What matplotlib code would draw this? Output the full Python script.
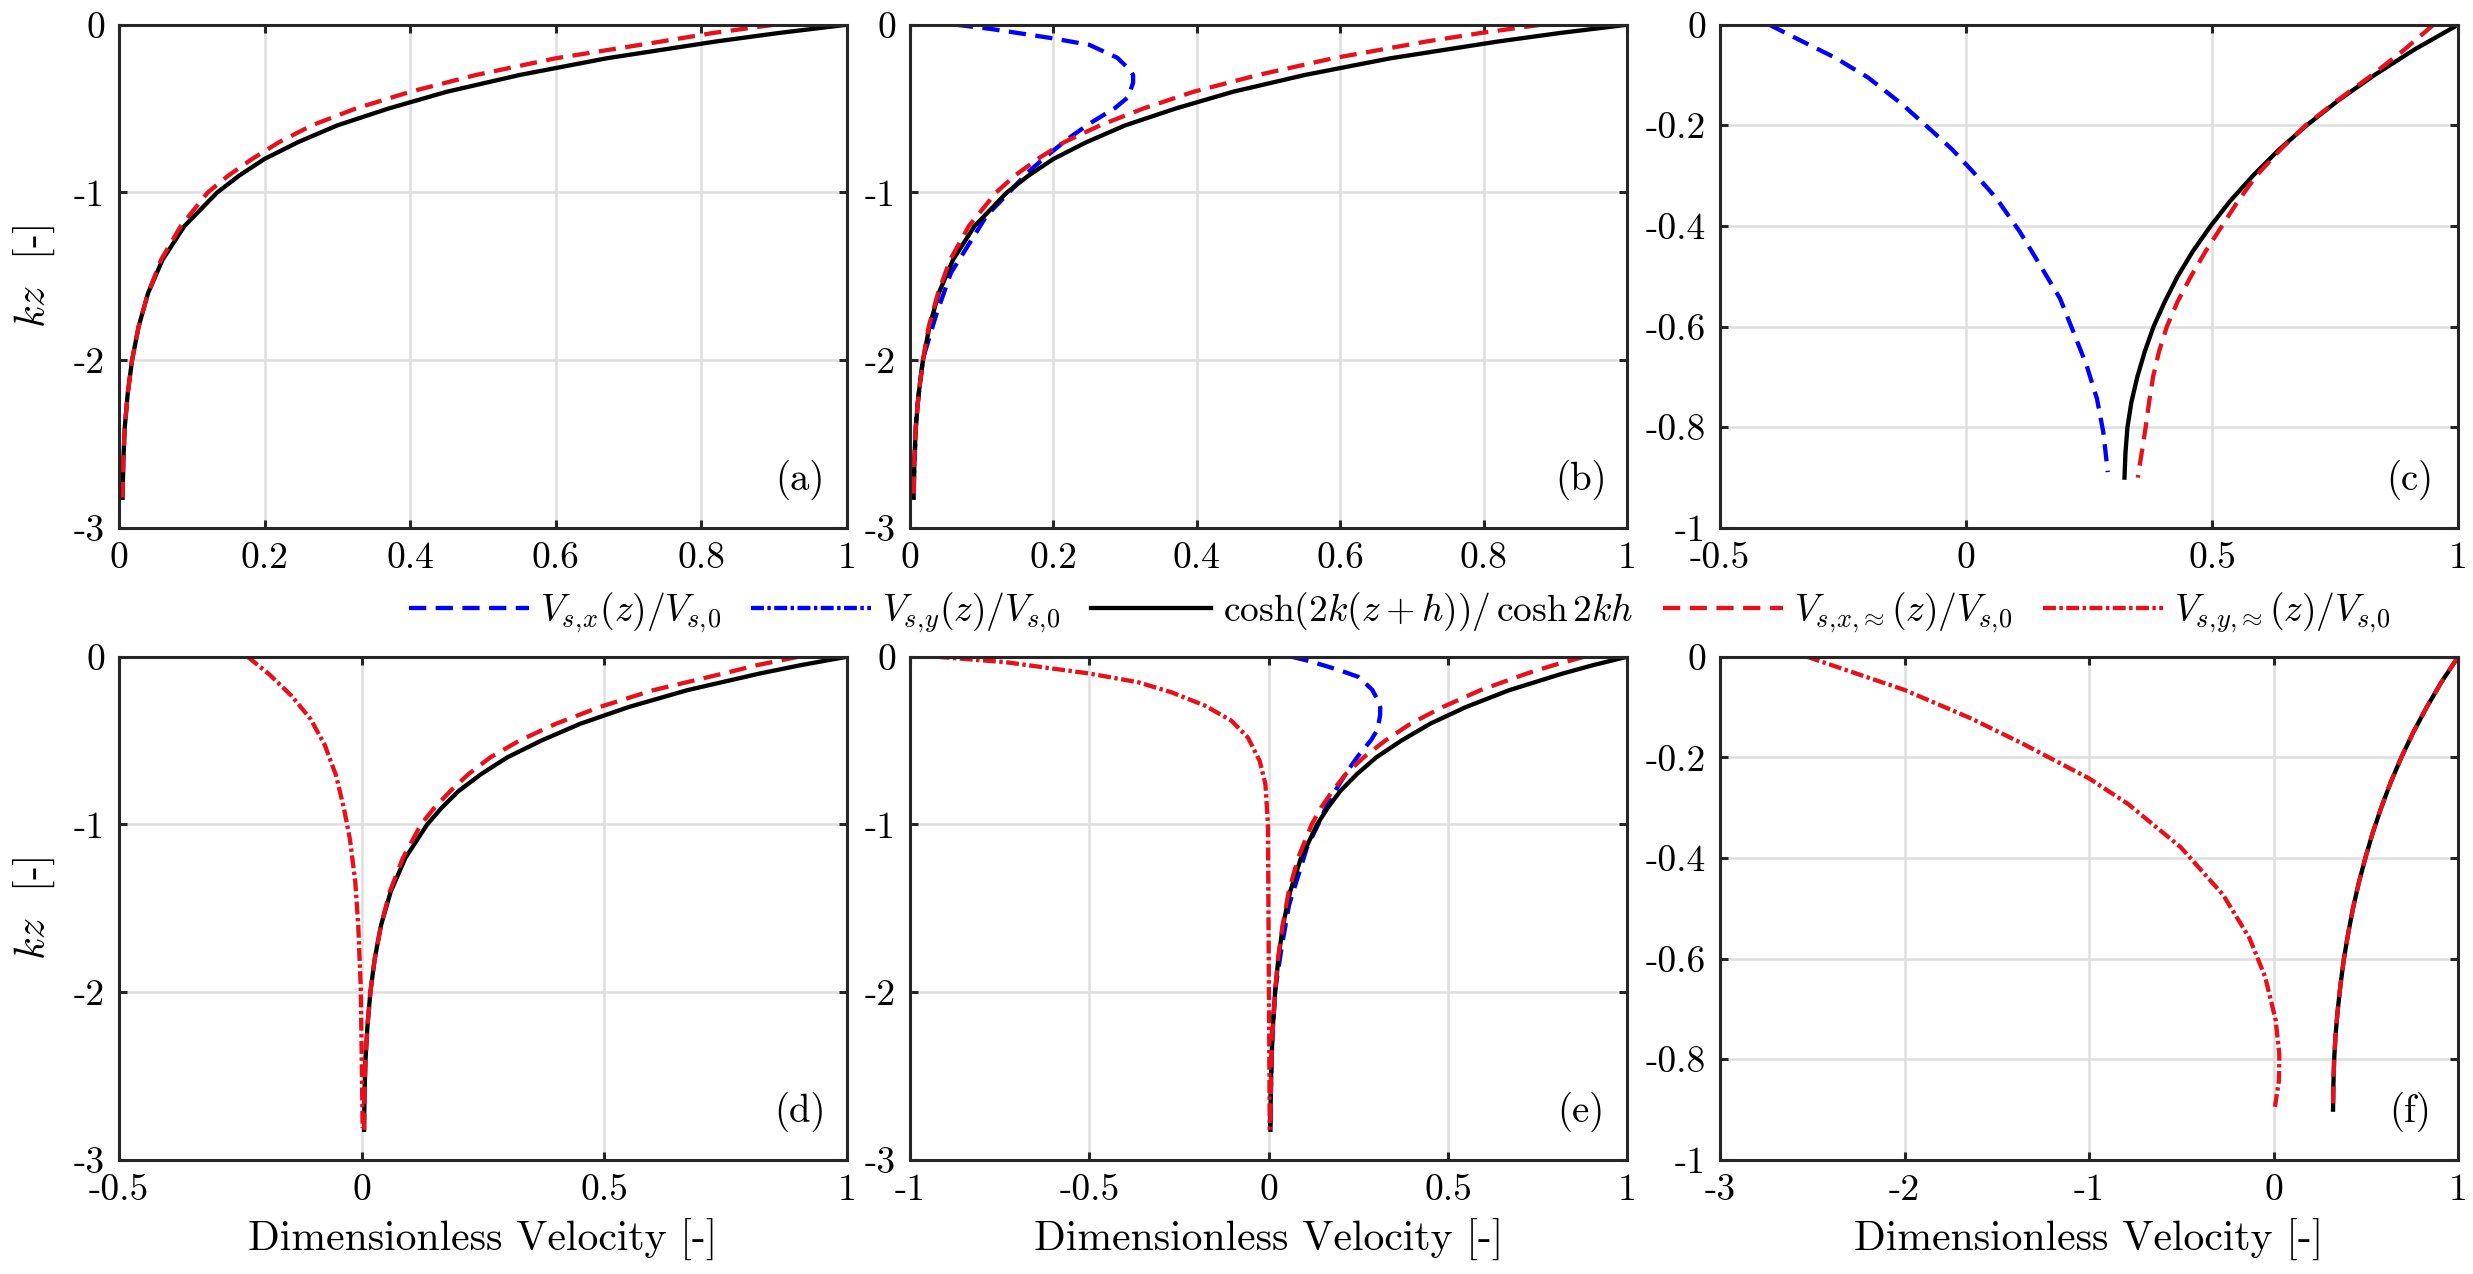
import matplotlib
matplotlib.use('Agg')
import matplotlib.pyplot as plt
from matplotlib.lines import Line2D

plt.rcParams['font.family'] = 'cmr10'
plt.rcParams['mathtext.fontset'] = 'cm'
plt.rcParams['axes.formatter.use_mathtext'] = True
plt.rcParams['axes.unicode_minus'] = False

# ---- data ----
# deep water (panels a, b, d, e): exact profile cosh(2k(z+h))/cosh(2kh)
kz_deep = [0, -0.05, -0.1, -0.2, -0.3, -0.4, -0.5, -0.6, -0.7, -0.8, -0.9, -1.0,
           -1.2, -1.4, -1.6, -1.8, -2.0, -2.2, -2.4, -2.6, -2.82]
v_exact_deep = [1.0, 0.905, 0.82, 0.67, 0.55, 0.45, 0.37, 0.30, 0.246, 0.20, 0.165, 0.135,
                0.09, 0.06, 0.04, 0.027, 0.018, 0.012, 0.008, 0.006, 0.005]
vx_approx_a = [0.90, 0.815, 0.745, 0.60, 0.49, 0.40, 0.325, 0.265, 0.22, 0.183, 0.15, 0.122,
               0.085, 0.058, 0.04, 0.027, 0.018, 0.012, 0.008, 0.006, 0.005]
vx_approx_b = [0.88, 0.795, 0.72, 0.59, 0.485, 0.395, 0.325, 0.265, 0.215, 0.178, 0.146, 0.12,
               0.082, 0.056, 0.039, 0.026, 0.018, 0.012, 0.008, 0.006, 0.005]

# blue Vs,x in panels b and e
kz_vx_b = [0, -0.026, -0.079, -0.12, -0.197, -0.271, -0.30, -0.346, -0.432, -0.496, -0.59,
           -0.677, -0.774, -0.88, -1.009, -1.137, -1.329, -1.479, -1.735, -1.991, -2.312,
           -2.632, -2.825]
vx_b = [0.064, 0.114, 0.196, 0.25, 0.289, 0.307, 0.311, 0.311, 0.304, 0.286, 0.25,
        0.221, 0.193, 0.164, 0.136, 0.107, 0.079, 0.057, 0.036, 0.018, 0.009,
        0.006, 0.004]

# Vs,y approx in panel d
kz_vy_d = [0, -0.103, -0.231, -0.372, -0.526, -0.705, -0.91, -1.09, -1.346, -1.6,
           -1.96, -2.35, -2.81]
vy_d = [-0.235, -0.191, -0.145, -0.105, -0.076, -0.053, -0.036, -0.024, -0.013, -0.007,
        -0.002, 0.0, 0.002]

# Vs,y approx in panel e
kz_vy_e = [0, -0.032, -0.10, -0.152, -0.212, -0.291, -0.381, -0.481, -0.621, -0.76,
           -1.0, -1.72, -2.82]
vy_e = [-0.926, -0.735, -0.5, -0.364, -0.271, -0.178, -0.104, -0.058, -0.025, -0.009,
        -0.002, 0.0, 0.003]

# shallow water (panels c, f)
kz_shallow = [0, -0.05, -0.1, -0.15, -0.2, -0.25, -0.3, -0.35, -0.4, -0.45, -0.5, -0.55,
              -0.6, -0.65, -0.7, -0.75, -0.8, -0.85, -0.9]
v_exact_shallow = [1.0, 0.91, 0.83, 0.757, 0.692, 0.634, 0.583, 0.537, 0.497, 0.461, 0.43,
                   0.404, 0.381, 0.363, 0.348, 0.336, 0.328, 0.324, 0.322]
vx_approx_c = [0.95, 0.89, 0.825, 0.755, 0.69, 0.637, 0.59, 0.553, 0.52, 0.487, 0.457,
               0.43, 0.408, 0.392, 0.38, 0.372, 0.365, 0.357, 0.349]
kz_vx_c = [0, -0.032, -0.065, -0.105, -0.158, -0.205, -0.248, -0.291, -0.344, -0.411,
           -0.477, -0.544, -0.61, -0.677, -0.743, -0.81, -0.889]
vx_c = [-0.40, -0.335, -0.267, -0.199, -0.13, -0.076, -0.028, 0.013, 0.061, 0.109,
        0.15, 0.191, 0.218, 0.245, 0.266, 0.279, 0.288]
kz_vy_f = [0, -0.066, -0.122, -0.173, -0.242, -0.293, -0.379, -0.473, -0.559, -0.636,
           -0.722, -0.79, -0.842, -0.897]
vy_f = [-2.528, -2.0, -1.643, -1.358, -0.999, -0.787, -0.502, -0.274, -0.131, -0.046,
        0.011, 0.031, 0.029, 0.006]

# ticks
xt_01 = [0, 0.2, 0.4, 0.6, 0.8, 1]
xl_01 = ['0', '0.2', '0.4', '0.6', '0.8', '1']
xt_h = [-0.5, 0, 0.5, 1]
xl_h = ['-0.5', '0', '0.5', '1']
xt_e = [-1, -0.5, 0, 0.5, 1]
xl_e = ['-1', '-0.5', '0', '0.5', '1']
xt_f = [-3, -2, -1, 0, 1]
xl_f = ['-3', '-2', '-1', '0', '1']
yt_deep = [-3, -2, -1, 0]
yl_deep = ['-3', '-2', '-1', '0']
yt_sh = [-1, -0.8, -0.6, -0.4, -0.2, 0]
yl_sh = ['-1', '-0.8', '-0.6', '-0.4', '-0.2', '0']

# ---- styles ----
BLUE = '#0000ff'
RED = '#e8101a'
DASH = (4, 2.2)
DASHDOT = (3.0, 0.8, 0.8, 0.8)
LW = 3.1
TICK_FS = 27

fig = plt.figure(figsize=(24.73, 12.74), dpi=100)
col_left = [0.0481, 0.3680, 0.6955]
col_width = [0.2944, 0.2900, 0.2985]
row_bottom = [0.5856, 0.0895]
row_height = 0.3950


def make_ax(r, c):
    ax = fig.add_axes([col_left[c], row_bottom[r], col_width[c], row_height])
    ax.grid(True, color='#dedede', lw=1.8)
    ax.set_axisbelow(True)
    for s in ax.spines.values():
        s.set_linewidth(2.2)
        s.set_color('#262626')
    ax.tick_params(direction='in', length=6, width=2.2, color='#262626',
                   top=True, right=True, labelsize=TICK_FS, pad=10)
    return ax


def finish(ax, xt, xl, yt, yl, tag, xlim, ylim):
    ax.set_xlim(xlim)
    ax.set_ylim(ylim)
    ax.set_xticks(xt)
    ax.set_xticklabels(xl)
    ax.set_yticks(yt)
    ax.set_yticklabels(yl)
    ax.text(0.935, 0.095, tag, transform=ax.transAxes, fontsize=28,
            ha='center', va='center')


def dashed(ax, x, y, color):
    ax.plot(x, y, color=color, lw=LW, dashes=DASH)


def dashdot(ax, x, y, color):
    ax.plot(x, y, color=color, lw=LW, dashes=DASHDOT)


def solid(ax, x, y):
    ax.plot(x, y, color='black', lw=LW)


# (a)
ax = make_ax(0, 0)
solid(ax, v_exact_deep, kz_deep)
dashed(ax, vx_approx_a, kz_deep, RED)
finish(ax, xt_01, xl_01, yt_deep, yl_deep, '(a)', (0, 1), (-3, 0))
ax.set_ylabel(r'$kz$  [-]', fontsize=30, labelpad=12)

# (b)
ax = make_ax(0, 1)
dashed(ax, vx_b, kz_vx_b, BLUE)
solid(ax, v_exact_deep, kz_deep)
dashed(ax, vx_approx_b, kz_deep, RED)
finish(ax, xt_01, xl_01, yt_deep, yl_deep, '(b)', (0, 1), (-3, 0))

# (c)
ax = make_ax(0, 2)
dashed(ax, vx_c, kz_vx_c, BLUE)
solid(ax, v_exact_shallow, kz_shallow)
dashed(ax, vx_approx_c, kz_shallow, RED)
finish(ax, xt_h, xl_h, yt_sh, yl_sh, '(c)', (-0.5, 1), (-1, 0))

# (d)
ax = make_ax(1, 0)
solid(ax, v_exact_deep, kz_deep)
dashed(ax, vx_approx_a, kz_deep, RED)
dashdot(ax, vy_d, kz_vy_d, RED)
finish(ax, xt_h, xl_h, yt_deep, yl_deep, '(d)', (-0.5, 1), (-3, 0))
ax.set_ylabel(r'$kz$  [-]', fontsize=30, labelpad=12)
ax.set_xlabel('Dimensionless Velocity [-]', fontsize=30, labelpad=8)

# (e)
ax = make_ax(1, 1)
dashed(ax, vx_b, kz_vx_b, BLUE)
solid(ax, v_exact_deep, kz_deep)
dashed(ax, vx_approx_b, kz_deep, RED)
dashdot(ax, vy_e, kz_vy_e, RED)
finish(ax, xt_e, xl_e, yt_deep, yl_deep, '(e)', (-1, 1), (-3, 0))
ax.set_xlabel('Dimensionless Velocity [-]', fontsize=30, labelpad=8)

# (f)
ax = make_ax(1, 2)
solid(ax, v_exact_shallow, kz_shallow)
dashed(ax, v_exact_shallow, kz_shallow, RED)
dashdot(ax, vy_f, kz_vy_f, RED)
finish(ax, xt_f, xl_f, yt_sh, yl_sh, '(f)', (-3, 1), (-1, 0))
ax.set_xlabel('Dimensionless Velocity [-]', fontsize=30, labelpad=8)

# shared legend between the rows
handles = [
    Line2D([], [], color=BLUE, lw=LW, dashes=DASH),
    Line2D([], [], color=BLUE, lw=LW, dashes=DASHDOT),
    Line2D([], [], color='black', lw=LW),
    Line2D([], [], color=RED, lw=LW, dashes=DASH),
    Line2D([], [], color=RED, lw=LW, dashes=DASHDOT),
]
labels = [
    r'$V_{s,\!x}(z)/V_{s,\!0}$',
    r'$V_{s,\!y}(z)/V_{s,\!0}$',
    r'$\cosh(2k(z+h))/\,\cosh 2kh$',
    r'$V_{s,\!x,\!\approx}(z)/V_{s,\!0}$',
    r'$V_{s,\!y,\!\approx}(z)/V_{s,\!0}$',
]
fig.legend(handles, labels, loc='center', bbox_to_anchor=(0.566, 0.519), ncol=5,
           frameon=False, fontsize=27, handlelength=3.2, handletextpad=0.3,
           columnspacing=0.8)

fig.savefig('out.png', dpi=100)
